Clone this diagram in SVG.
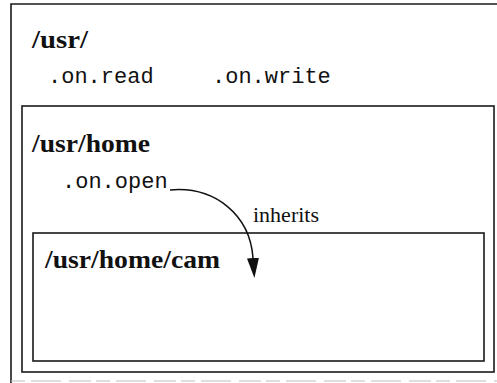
<svg xmlns="http://www.w3.org/2000/svg" width="497" height="383" viewBox="0 0 497 383">
  <style>
    .box { fill: none; stroke: #1a1a1a; stroke-width: 1.6; }
    .title { font-family: "Liberation Serif", "Times New Roman", serif; font-weight: bold; font-size: 25px; fill: #111; }
    .code { font-family: "Liberation Mono", "Courier New", monospace; font-size: 22px; fill: #111; }
    .label { font-family: "Liberation Serif", "Times New Roman", serif; font-size: 22px; fill: #111; }
    .edge { fill: none; stroke: #111; stroke-width: 1.5; }
  </style>
  <defs>
    <marker id="arrow" viewBox="0 0 20 12" refX="0" refY="6" markerWidth="20" markerHeight="12" markerUnits="userSpaceOnUse" orient="auto">
      <path d="M0,0 L20,6 L0,12 Z" fill="#111"/>
    </marker>
  </defs>
  <rect width="497" height="383" fill="#fff"/>

  <!-- /usr/ directory -->
  <g id="usr">
    <path class="box" d="M500,4 H11 V390"/>
    <path d="M11,381 H497" stroke="#bdbdbd" stroke-width="1.2" stroke-dasharray="14 6 30 8 22 5"/>
    <text class="title" x="32" y="48" textLength="56" lengthAdjust="spacingAndGlyphs">/usr/</text>
    <text class="code" x="48" y="83">.on.read</text>
    <text class="code" x="212" y="83">.on.write</text>
  </g>

  <!-- /usr/home directory -->
  <g id="usr-home">
    <rect class="box" x="22" y="106" width="472" height="266"/>
    <text class="title" x="32" y="152" textLength="118" lengthAdjust="spacingAndGlyphs">/usr/home</text>
    <text class="code" x="62" y="188">.on.open</text>
  </g>

  <!-- /usr/home/cam directory -->
  <g id="usr-home-cam">
    <rect class="box" x="33" y="233" width="451" height="128"/>
    <text class="title" x="45" y="268" textLength="175" lengthAdjust="spacingAndGlyphs">/usr/home/cam</text>
  </g>

  <!-- inheritance connector -->
  <g id="connectors">
    <path class="edge" d="M170,190 C215,186 250,215 253,258" marker-end="url(#arrow)"/>
    <text class="label" x="253" y="222">inherits</text>
  </g>
</svg>
